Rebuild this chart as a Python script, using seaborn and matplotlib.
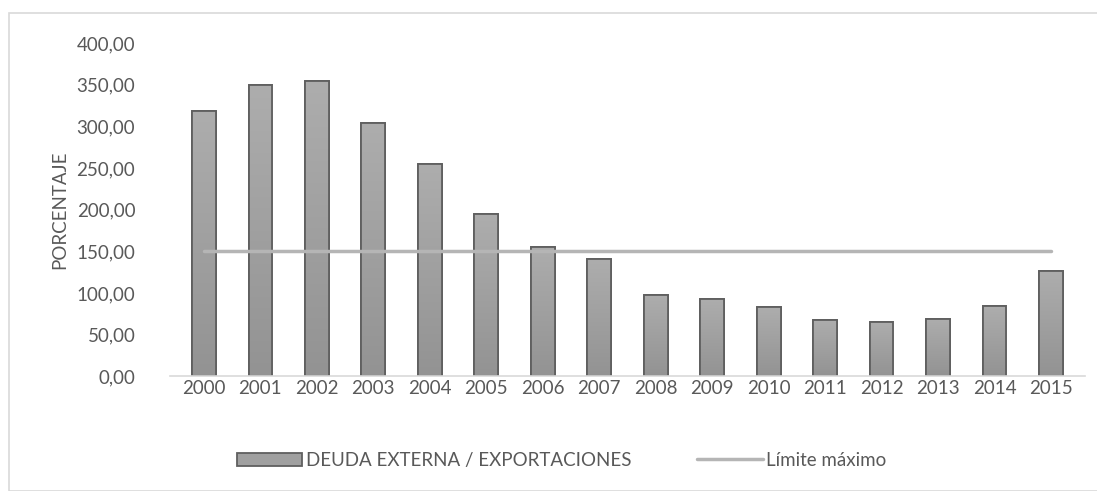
import matplotlib.pyplot as plt
import matplotlib
import seaborn as sns
import numpy as np
import pandas as pd
from matplotlib.patches import Rectangle, Patch
from matplotlib.lines import Line2D
from matplotlib.ticker import FuncFormatter
from matplotlib.colors import LinearSegmentedColormap

# datos
years = ["2000", "2001", "2002", "2003", "2004", "2005", "2006", "2007",
         "2008", "2009", "2010", "2011", "2012", "2013", "2014", "2015"]
deuda_export = [318.5, 349.5, 355.0, 304.0, 254.5, 194.5, 155.5, 140.5,
                98.0, 92.5, 82.5, 68.0, 64.5, 68.5, 84.0, 126.5]
limite = [150.0] * len(years)

df = pd.DataFrame({"anio": years, "deuda": deuda_export, "limite": limite})

sns.set_style("white")
matplotlib.rcParams["font.family"] = ["Lato", "DejaVu Sans"]
txt = "#595959"

fig = plt.figure(figsize=(10.97, 4.91), dpi=100)
ax = fig.add_axes([0.155, 0.234, 0.834, 0.678])

sns.barplot(data=df, x="anio", y="deuda", ax=ax, color="#a3a3a3",
            saturation=1, width=0.42, edgecolor="#5f5f5f", linewidth=1.3)

# degradado de las barras (claro arriba, oscuro abajo)
grad = LinearSegmentedColormap.from_list("g", ["#939393", "#adadad"])
for bar in ax.patches:
    x0, y0 = bar.get_x(), bar.get_y()
    w, h = bar.get_width(), bar.get_height()
    im = ax.imshow(np.linspace(0, 1, 100).reshape(-1, 1), cmap=grad,
                   extent=[x0, x0 + w, y0, y0 + h], origin="lower",
                   aspect="auto", zorder=bar.get_zorder() + 0.1)
    im.set_clip_path(bar)
    bar.set_zorder(bar.get_zorder())
    ax.add_patch(Rectangle((x0, y0), w, h, fill=False, edgecolor="#5f5f5f",
                           linewidth=1.3, zorder=bar.get_zorder() + 0.2))

sns.lineplot(data=df, x="anio", y="limite", ax=ax, color="#b5b5b5",
             linewidth=2.5, zorder=5)

ax.set_ylim(0, 400)
ax.set_xlim(-0.6, 15.6)
ax.set_yticks(range(0, 401, 50))
ax.yaxis.set_major_formatter(FuncFormatter(lambda v, p: f"{v:.2f}".replace(".", ",")))
ax.tick_params(axis="both", labelsize=13.5, colors=txt, length=0)
ax.tick_params(axis="y", pad=25)
ax.tick_params(axis="x", pad=3)
ax.set_xlabel("")
ax.set_ylabel("PORCENTAJE", fontsize=13.5, color=txt, labelpad=6)

for s in ["top", "right", "left"]:
    ax.spines[s].set_visible(False)
ax.spines["bottom"].set_color("#d9d9d9")
ax.spines["bottom"].set_linewidth(1.2)

# borde del grafico
fig.patches.append(Rectangle((9 / 1097, 0), 1.0, 1 - 13 / 491,
                             transform=fig.transFigure, fill=False,
                             edgecolor="#d9d9d9", linewidth=1.2))

handles = [Patch(facecolor="#a0a0a0", edgecolor="#5f5f5f", linewidth=1.3),
           Line2D([], [], color="#b5b5b5", linewidth=2.5)]
leg = fig.legend(handles, ["DEUDA EXTERNA / EXPORTACIONES", "Límite máximo"],
                 loc="center", bbox_to_anchor=(0.512, 0.062), ncol=2,
                 frameon=False, fontsize=13.5, handlelength=3.5,
                 columnspacing=3.5, handletextpad=0.2)
for t in leg.get_texts():
    t.set_color(txt)

fig.savefig("out.png", dpi=100)
